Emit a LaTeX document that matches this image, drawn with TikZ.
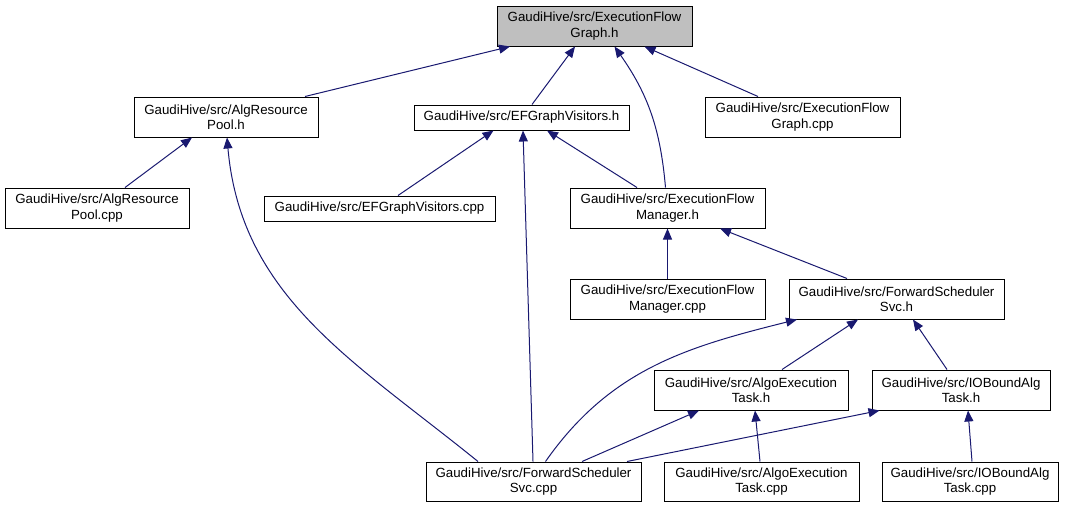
\documentclass[tikz,border=0pt]{standalone}
\usepackage{fontspec}
\setmainfont{Liberation Sans}
\usetikzlibrary{arrows.meta}
\definecolor{edgeblue}{HTML}{191970}
\definecolor{focusgray}{HTML}{BFBFBF}
\begin{document}
\begin{tikzpicture}[x=1pt,y=-1pt,
  box/.style={draw=black, line width=1pt, inner sep=0pt, align=center, fill=white,
    font=\fontsize{13.3}{15.5}\selectfont},
  edge/.style={draw=edgeblue, line width=1pt, -{Triangle[length=11pt,width=9pt]}}]
\useasboundingbox (0,0) rectangle (1067,507);
\node[box, fill=focusgray, minimum width=195pt, minimum height=40pt] (efgh) at (594.5,26) {GaudiHive/src/ExecutionFlow\\Graph.h};
\node[box, minimum width=184pt, minimum height=40pt] (arph) at (226,117) {GaudiHive/src/AlgResource\\Pool.h};
\node[box, minimum width=215pt, minimum height=25pt] (efgvh) at (521.5,117.5) {GaudiHive/src/EFGraphVisitors.h};
\node[box, minimum width=195pt, minimum height=40pt] (efgcpp) at (802.5,117) {GaudiHive/src/ExecutionFlow\\Graph.cpp};
\node[box, minimum width=184pt, minimum height=40pt] (arpcpp) at (97,208) {GaudiHive/src/AlgResource\\Pool.cpp};
\node[box, minimum width=231pt, minimum height=25pt] (efgvcpp) at (379.5,208.5) {GaudiHive/src/EFGraphVisitors.cpp};
\node[box, minimum width=195pt, minimum height=40pt] (efmh) at (667.5,208) {GaudiHive/src/ExecutionFlow\\Manager.h};
\node[box, minimum width=195pt, minimum height=40pt] (efmcpp) at (667.5,299) {GaudiHive/src/ExecutionFlow\\Manager.cpp};
\node[box, minimum width=215pt, minimum height=40pt] (fssh) at (896.5,299) {GaudiHive/src/ForwardScheduler\\Svc.h};
\node[box, minimum width=194pt, minimum height=40pt] (aeth) at (751,390) {GaudiHive/src/AlgoExecution\\Task.h};
\node[box, minimum width=178pt, minimum height=40pt] (iobh) at (961,390) {GaudiHive/src/IOBoundAlg\\Task.h};
\node[box, minimum width=215pt, minimum height=39pt] (fscpp) at (533.5,481.5) {GaudiHive/src/ForwardScheduler\\Svc.cpp};
\node[box, minimum width=195pt, minimum height=39pt] (aetcpp) at (761.5,481.5) {GaudiHive/src/AlgoExecution\\Task.cpp};
\node[box, minimum width=176pt, minimum height=39pt] (iobcpp) at (970,481.5) {GaudiHive/src/IOBoundAlg\\Task.cpp};

\draw[edge] ([xshift=79pt]arph.north) -- ([xshift=-84.5pt]efgh.south);
\draw[edge] ([xshift=10.5pt]efgvh.north) -- ([xshift=-19.5pt]efgh.south);
\draw[edge] ([xshift=-2pt]efmh.north) to[out=95,in=-55] ([xshift=20pt]efgh.south);
\draw[edge] ([xshift=-44.5pt]efgcpp.north) -- ([xshift=50pt]efgh.south);
\draw[edge] ([xshift=28pt]arpcpp.north) -- ([xshift=-34pt]arph.south);
\draw[edge] ([xshift=-55.5pt]fscpp.north) to[out=141,in=-85] ([xshift=1pt]arph.south);
\draw[edge] ([xshift=18.5pt]efgvcpp.north) -- ([xshift=-28pt]efgvh.south);
\draw[edge] ([xshift=-0.5pt]fscpp.north) -- ([xshift=1.5pt]efgvh.south);
\draw[edge] ([xshift=-30.5pt]efmh.north) -- ([xshift=25.5pt]efgvh.south);
\draw[edge] (efmcpp.north) -- (efmh.south);
\draw[edge] ([xshift=-49.5pt]fssh.north) -- ([xshift=52.5pt]efmh.south);
\draw[edge] ([xshift=12pt]fscpp.north) to[out=55,in=-166] ([xshift=-99.5pt]fssh.south);
\draw[edge] ([xshift=31pt]aeth.north) -- ([xshift=-38.5pt]fssh.south);
\draw[edge] ([xshift=-14pt]iobh.north) -- ([xshift=16.5pt]fssh.south);
\draw[edge] ([xshift=48.5pt]fscpp.north) -- ([xshift=-52pt]aeth.south);
\draw[edge] ([xshift=93.5pt]fscpp.north) -- ([xshift=8pt]iobh.south west);
\draw[edge] ([xshift=-1.5pt]aetcpp.north) -- ([xshift=4pt]aeth.south);
\draw[edge] ([xshift=2pt]iobcpp.north) -- ([xshift=7pt]iobh.south);
\end{tikzpicture}
\end{document}
